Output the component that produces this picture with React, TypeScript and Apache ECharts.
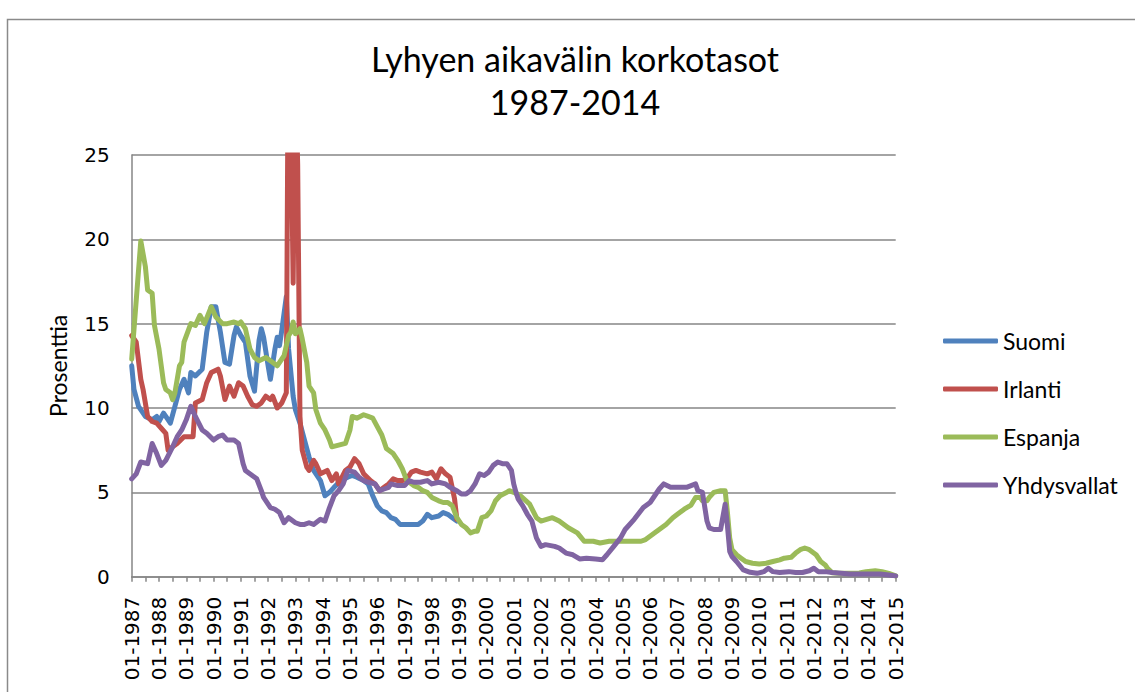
import React, { useEffect, useRef } from 'react';
import * as echarts from 'echarts';

// x = months since 01-1987, y = percent
const suomi: [number, number][] = [
  [0, 12.5], [1, 11.1], [3, 10.1], [6, 9.5], [9, 9.3], [11, 9.5], [12, 9.2], [14, 9.7], [15, 9.5], [17, 9.1],
  [19, 10.1], [21, 11.1], [23, 11.7], [25, 10.9], [26, 12.1], [28, 11.9], [31, 12.3], [33, 14.5], [35, 16.0],
  [37, 16.0], [39, 14.5], [41, 12.7], [43, 12.6], [45, 14.3], [46, 14.8], [48, 14.3], [50, 13.9], [52, 11.9],
  [54, 11.0], [55, 12.5], [56, 14.0], [57, 14.7], [58, 14.2], [60, 12.5], [61, 11.7], [63, 13.5], [64, 14.2],
  [65, 13.7], [66, 14.6], [68, 16.6], [69, 13.5], [71, 10.7], [72, 9.9], [74, 9.1], [76, 8.1], [78, 7.1],
  [80, 6.3], [83, 5.7], [85, 4.8], [87, 5.0], [89, 5.3], [92, 5.7], [95, 5.9], [97, 6.0], [99, 5.9], [102, 5.7],
  [104, 5.5], [106, 4.8], [108, 4.2], [110, 3.9], [112, 3.8], [114, 3.5], [116, 3.4], [118, 3.1], [121, 3.1],
  [124, 3.1], [126, 3.1], [128, 3.3], [130, 3.7], [132, 3.5], [135, 3.6], [137, 3.8], [139, 3.7], [141, 3.5],
  [143, 3.3],
];

const irlanti: [number, number][] = [
  [0, 14.3], [2, 13.9], [4, 11.7], [5, 11.1], [7, 9.5], [9, 9.2], [11, 9.1], [13, 8.8], [15, 8.5], [16, 7.5],
  [18, 7.7], [20, 7.9], [23, 8.3], [25, 8.3], [27, 8.3], [28, 10.3], [31, 10.5], [33, 11.5], [35, 12.1],
  [38, 12.3], [39, 11.9], [41, 10.5], [43, 11.3], [45, 10.7], [47, 11.5], [49, 11.3], [51, 10.7], [53, 10.2],
  [55, 10.1], [57, 10.3], [59, 10.7], [61, 10.5], [62, 10.7], [64, 10.0], [66, 10.3], [68, 10.9], [69, 35.0],
  [70, 28.0], [71, 17.4], [72, 30.0], [73, 24.4], [74, 9.5], [75, 7.5], [77, 6.5], [78, 6.3], [80, 6.9],
  [81, 6.7], [83, 6.1], [86, 6.3], [88, 5.7], [90, 6.1], [91, 5.5], [94, 6.3], [96, 6.5], [98, 7.0], [100, 6.7],
  [102, 6.1], [105, 5.7], [107, 5.5], [109, 5.1], [111, 5.3], [113, 5.5], [115, 5.8], [117, 5.7], [119, 5.7],
  [121, 5.8], [123, 6.2], [125, 6.3], [127, 6.2], [130, 6.1], [132, 6.2], [134, 5.8], [136, 6.4], [138, 6.1],
  [140, 5.9], [142, 4.6], [143, 3.4],
];

const espanja: [number, number][] = [
  [0, 12.9], [4, 19.9], [6, 18.4], [7, 17.0], [9, 16.8], [10, 14.9], [12, 13.5], [14, 11.5], [15, 11.1],
  [17, 10.9], [18, 10.5], [19, 10.9], [21, 12.5], [22, 12.7], [23, 13.9], [26, 15.0], [28, 14.9], [30, 15.5],
  [32, 15.0], [35, 16.0], [37, 15.4], [40, 15.0], [42, 15.0], [45, 15.1], [47, 15.0], [48, 15.1], [50, 14.7],
  [52, 13.5], [54, 13.0], [56, 12.8], [59, 13.0], [61, 12.8], [64, 12.5], [67, 13.1], [69, 14.3], [70, 14.5],
  [71, 15.1], [72, 14.4], [74, 14.7], [75, 14.1], [77, 12.7], [78, 11.3], [80, 10.9], [81, 9.9], [83, 9.1],
  [85, 8.7], [87, 8.1], [88, 7.7], [91, 7.8], [94, 7.9], [96, 8.7], [97, 9.5], [99, 9.4], [102, 9.6], [104, 9.5],
  [106, 9.4], [108, 8.9], [110, 8.4], [112, 7.6], [115, 7.3], [117, 6.9], [119, 6.4], [121, 5.7], [124, 5.4],
  [126, 5.3], [128, 5.1], [130, 5.0], [132, 4.7], [135, 4.5], [137, 4.4], [139, 4.4], [141, 4.2], [143, 3.5],
  [145, 3.1], [147, 2.9], [149, 2.6], [151, 2.7], [152, 2.7], [154, 3.5], [156, 3.6], [158, 3.9], [160, 4.5],
  [162, 4.8], [165, 5.0], [166, 5.1], [168, 5.0], [171, 4.8], [175, 4.3], [178, 3.5], [180, 3.3], [185, 3.5],
  [188, 3.3], [192, 2.9], [196, 2.6], [199, 2.1], [203, 2.1], [206, 2.0], [210, 2.1], [214, 2.1], [220, 2.1],
  [224, 2.1], [226, 2.2], [229, 2.5], [232, 2.8], [235, 3.1], [238, 3.5], [240, 3.7], [243, 4.0], [246, 4.25],
  [248, 4.7], [250, 4.7], [251, 4.5], [253, 4.5], [254, 4.7], [256, 5.0], [259, 5.1], [261, 5.1], [262, 3.8],
  [263, 2.3], [264, 1.6], [266, 1.3], [268, 1.1], [270, 0.9], [273, 0.8], [276, 0.75], [279, 0.8], [282, 0.9],
  [285, 1.0], [287, 1.1], [290, 1.15], [292, 1.4], [294, 1.6], [296, 1.7], [298, 1.6], [301, 1.3], [303, 0.9],
  [305, 0.7], [306, 0.5], [308, 0.24], [311, 0.2], [315, 0.2], [320, 0.22], [323, 0.3], [327, 0.35], [330, 0.3],
  [333, 0.2], [336, 0.05],
];

const yhdysvallat: [number, number][] = [
  [0, 5.8], [2, 6.1], [4, 6.8], [7, 6.7], [9, 7.9], [11, 7.3], [13, 6.6], [15, 6.9], [18, 7.7], [20, 8.3],
  [22, 8.7], [24, 9.3], [26, 10.1], [28, 9.5], [31, 8.7], [33, 8.5], [36, 8.1], [38, 8.3], [40, 8.4], [42, 8.1],
  [45, 8.1], [47, 7.9], [49, 6.7], [50, 6.3], [53, 6.0], [55, 5.8], [57, 5.1], [58, 4.7], [61, 4.1], [63, 4.0],
  [65, 3.8], [67, 3.2], [69, 3.5], [72, 3.2], [74, 3.1], [76, 3.1], [78, 3.2], [80, 3.1], [83, 3.4], [85, 3.3],
  [87, 4.1], [89, 4.8], [91, 5.1], [93, 5.5], [95, 6.3], [98, 6.2], [100, 5.9], [102, 5.7], [104, 5.6],
  [107, 5.5], [109, 5.1], [111, 5.2], [113, 5.3], [114, 5.5], [117, 5.4], [120, 5.4], [122, 5.7], [124, 5.6],
  [127, 5.6], [130, 5.7], [132, 5.5], [135, 5.6], [138, 5.5], [140, 5.3], [143, 5.1], [145, 4.9], [147, 4.9],
  [149, 5.1], [151, 5.5], [153, 6.1], [155, 6.0], [157, 6.2], [159, 6.6], [161, 6.8], [163, 6.7], [165, 6.7],
  [167, 6.3], [168, 5.5], [169, 5.0], [170, 4.6], [172, 4.2], [174, 3.7], [176, 3.3], [178, 2.3], [180, 1.8],
  [182, 1.9], [186, 1.8], [188, 1.7], [191, 1.4], [194, 1.3], [197, 1.05], [200, 1.1], [204, 1.05], [207, 1.0],
  [209, 1.3], [212, 1.8], [215, 2.3], [217, 2.8], [221, 3.4], [225, 4.1], [228, 4.4], [230, 4.8], [232, 5.2],
  [234, 5.5], [237, 5.3], [240, 5.3], [244, 5.3], [246, 5.4], [248, 5.5], [249, 5.1], [251, 5.0], [253, 3.3],
  [254, 2.9], [256, 2.8], [259, 2.8], [261, 4.3], [262, 3.0], [263, 1.5], [264, 1.2], [266, 0.9], [269, 0.4],
  [272, 0.26], [275, 0.2], [278, 0.3], [280, 0.5], [282, 0.3], [285, 0.25], [289, 0.3], [292, 0.25],
  [295, 0.25], [298, 0.35], [300, 0.5], [302, 0.3], [305, 0.3], [308, 0.25], [312, 0.2], [316, 0.16],
  [320, 0.16], [325, 0.16], [329, 0.16], [333, 0.1], [336, 0.05],
];

const seriesNames = ['Suomi', 'Irlanti', 'Espanja', 'Yhdysvallat'];
const seriesColors = ['#4F81BD', '#C0504D', '#9BBB59', '#8064A2'];
const seriesData = [suomi, irlanti, espanja, yhdysvallat];
const firstYear = 1987;
const monthsSpan = 336; // 01-1987 .. 01-2015
const yMax = 25;
const yStep = 5;
const titleLines = ['Lyhyen aikavälin korkotasot', '1987-2014'];

export default function App() {
  const ref = useRef<HTMLDivElement>(null);

  useEffect(() => {
    if (!ref.current) return;
    const chart = echarts.init(ref.current, null, { renderer: 'svg' });
    const gray = '#868686';
    chart.setOption({
      animation: false,
      backgroundColor: '#ffffff',
      graphic: [
        {
          type: 'rect',
          silent: true,
          shape: { x: 7.5, y: 19.5, width: 1200, height: 800 },
          style: { fill: 'none', stroke: '#8a8a8a', lineWidth: 1.5 },
        },
        {
          type: 'text',
          x: 575,
          y: 58,
          style: {
            text: titleLines[0],
            fontFamily: 'Lato',
            fontSize: 34,
            fill: '#000',
            textAlign: 'center',
            textVerticalAlign: 'middle',
          },
        },
        {
          type: 'text',
          x: 575,
          y: 101,
          style: {
            text: titleLines[1],
            fontFamily: 'Lato',
            fontSize: 34,
            fill: '#000',
            textAlign: 'center',
            textVerticalAlign: 'middle',
          },
        },
      ],
      legend: {
        orient: 'vertical',
        left: 938,
        top: 323,
        icon: 'roundRect',
        itemWidth: 55,
        itemHeight: 5,
        itemGap: 22,
        data: seriesNames,
        textStyle: { fontFamily: 'Lato', fontSize: 23, color: '#000', lineHeight: 26 },
      },
      grid: { left: 131.7, top: 155, width: 764, height: 421.7, containLabel: false },
      xAxis: {
        type: 'value',
        min: 0,
        max: monthsSpan,
        interval: 6,
        axisLine: { show: true, lineStyle: { color: gray, width: 1.5 } },
        axisTick: { show: true, length: 5, lineStyle: { color: gray, width: 1.5 } },
        splitLine: { show: false },
        axisLabel: {
          rotate: 90,
          margin: 20,
          fontFamily: 'DejaVu Sans',
          fontSize: 20,
          color: '#000',
          formatter: (v: number) => (v % 12 === 0 ? `01-${firstYear + v / 12}` : ''),
        },
      },
      yAxis: {
        type: 'value',
        min: 0,
        max: yMax,
        interval: yStep,
        name: 'Prosenttia',
        nameLocation: 'middle',
        nameRotate: 90,
        nameGap: 62,
        nameTextStyle: { fontFamily: 'Lato', fontSize: 23, color: '#000' },
        axisLine: { show: true, lineStyle: { color: gray, width: 1.5 } },
        axisTick: { show: false },
        splitLine: { show: true, lineStyle: { color: gray, width: 1.5 } },
        axisLabel: { margin: 22, fontFamily: 'DejaVu Sans', fontSize: 20, color: '#000' },
      },
      series: seriesNames.map((name, i) => ({
        name,
        type: 'line',
        data: seriesData[i],
        showSymbol: false,
        symbol: 'none',
        clip: true,
        color: seriesColors[i],
        lineStyle: { width: 5, color: seriesColors[i], cap: 'round', join: 'round' },
        z: 2 + i,
      })),
    });
    return () => chart.dispose();
  }, []);

  return (
    <div
      ref={ref}
      style={{ position: 'absolute', left: 0, top: 0, width: 1135, height: 692, background: '#fff' }}
    />
  );
}
